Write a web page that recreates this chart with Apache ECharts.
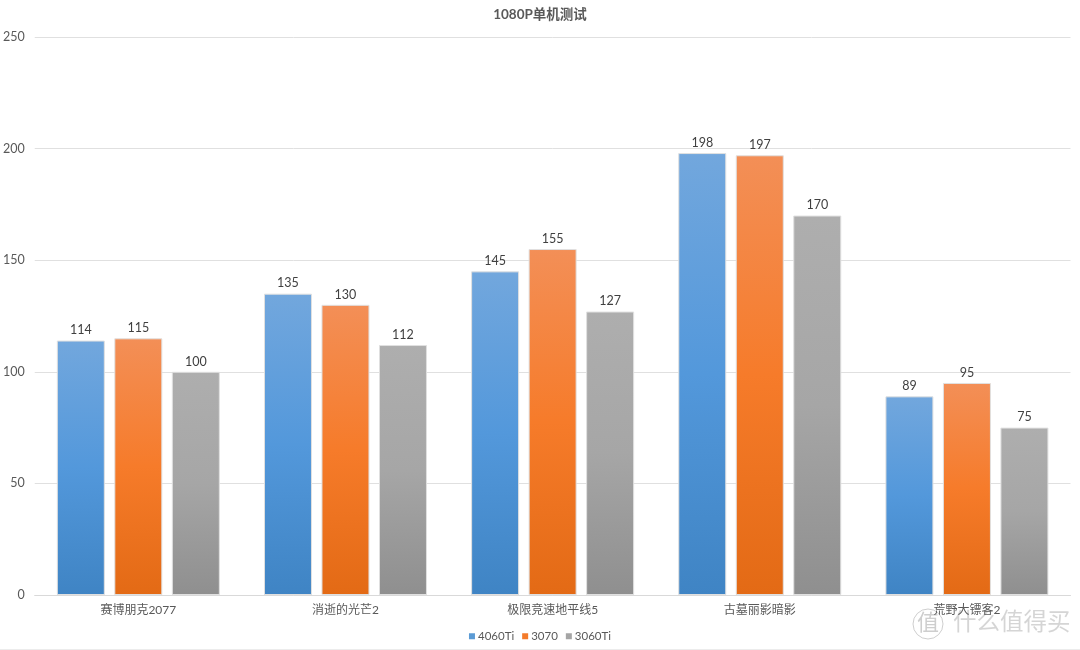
<!DOCTYPE html>
<html><head><meta charset="utf-8">
<style>html,body{margin:0;padding:0;background:#fff}#c{width:1080px;height:650px}</style>
<script src="https://cdn.jsdelivr.net/npm/echarts@6/dist/echarts.min.js"></script>
</head><body><div id="c"></div>
<script>
const categories = ['赛博朋克2077','消逝的光芒2','极限竞速地平线5','古墓丽影暗影','荒野大镖客2'];
const s4060 = [114,135,145,198,89];
const s3070 = [115,130,155,197,95];
const s3060 = [100,112,127,170,75];
const font = 'Lato,"Noto Sans CJK SC",sans-serif';
const grad = (a,b,c)=>({type:'linear',x:0,y:0,x2:0,y2:1,colorStops:[{offset:0,color:a},{offset:.5,color:b},{offset:1,color:c}]});
const mk = (name,data,g)=>({
  name,type:'bar',data,barWidth:48,barGap:'19.8%',
  itemStyle:{color:g,borderColor:'#e0e0e0',borderWidth:1},
  label:{show:true,position:'top',distance:4,color:'#404040',fontSize:12.5,fontFamily:font}
});
const chart = echarts.init(document.getElementById('c'));
chart.setOption({
  animation:false,
  backgroundColor:'#fff',
  title:{text:'1080P单机测试',left:'center',top:3,textStyle:{fontSize:13.5,fontWeight:'bold',color:'#595959',fontFamily:font}},
  legend:{bottom:3,left:'center',itemWidth:6,itemHeight:6,itemGap:8,icon:'rect',
    textStyle:{fontSize:11.5,color:'#595959',fontFamily:font,padding:[0,0,0,-2]},
    data:[{name:'4060Ti',itemStyle:{color:'#5b9bd5',borderWidth:0}},{name:'3070',itemStyle:{color:'#f47b2b',borderWidth:0}},{name:'3060Ti',itemStyle:{color:'#a5a5a5',borderWidth:0}}]},
  grid:{left:33,right:9.5,top:37,bottom:55},
  xAxis:{type:'category',data:categories,
    axisLine:{lineStyle:{color:'#d9d9d9',width:1}},axisTick:{show:false},
    axisLabel:{color:'#595959',fontSize:12,fontFamily:font,margin:9}},
  yAxis:{type:'value',min:0,max:250,interval:50,
    axisLine:{show:false},axisTick:{show:false},
    axisLabel:{color:'#595959',fontSize:12.5,fontFamily:font,margin:10},
    splitLine:{lineStyle:{color:'#e0e0e0',width:1}}},
  series:[
    mk('4060Ti',s4060,grad('#72a7dd','#5398db','#3f84c4')),
    mk('3070',s3070,grad('#f38f57','#f67b2a','#e36a15')),
    mk('3060Ti',s3060,grad('#aeaeae','#a6a6a6','#8f8f8f'))
  ],
  graphic:[
    {type:'line',shape:{x1:0,y1:649.5,x2:1080,y2:649.5},style:{stroke:'#ececec',lineWidth:1},silent:true},
    {type:'circle',shape:{cx:928,cy:624,r:15},style:{fill:'none',stroke:'rgba(185,185,185,0.7)',lineWidth:1},silent:true},
    {type:'text',x:917,y:611,style:{text:'值',font:'22px "Noto Sans CJK SC"',fill:'rgba(185,185,185,0.7)'},silent:true},
    {type:'text',x:953,y:609,style:{text:'什么值得买',font:'23.5px "Noto Sans CJK SC"',fill:'rgba(190,190,190,0.65)'},silent:true}
  ]
});
</script></body></html>
